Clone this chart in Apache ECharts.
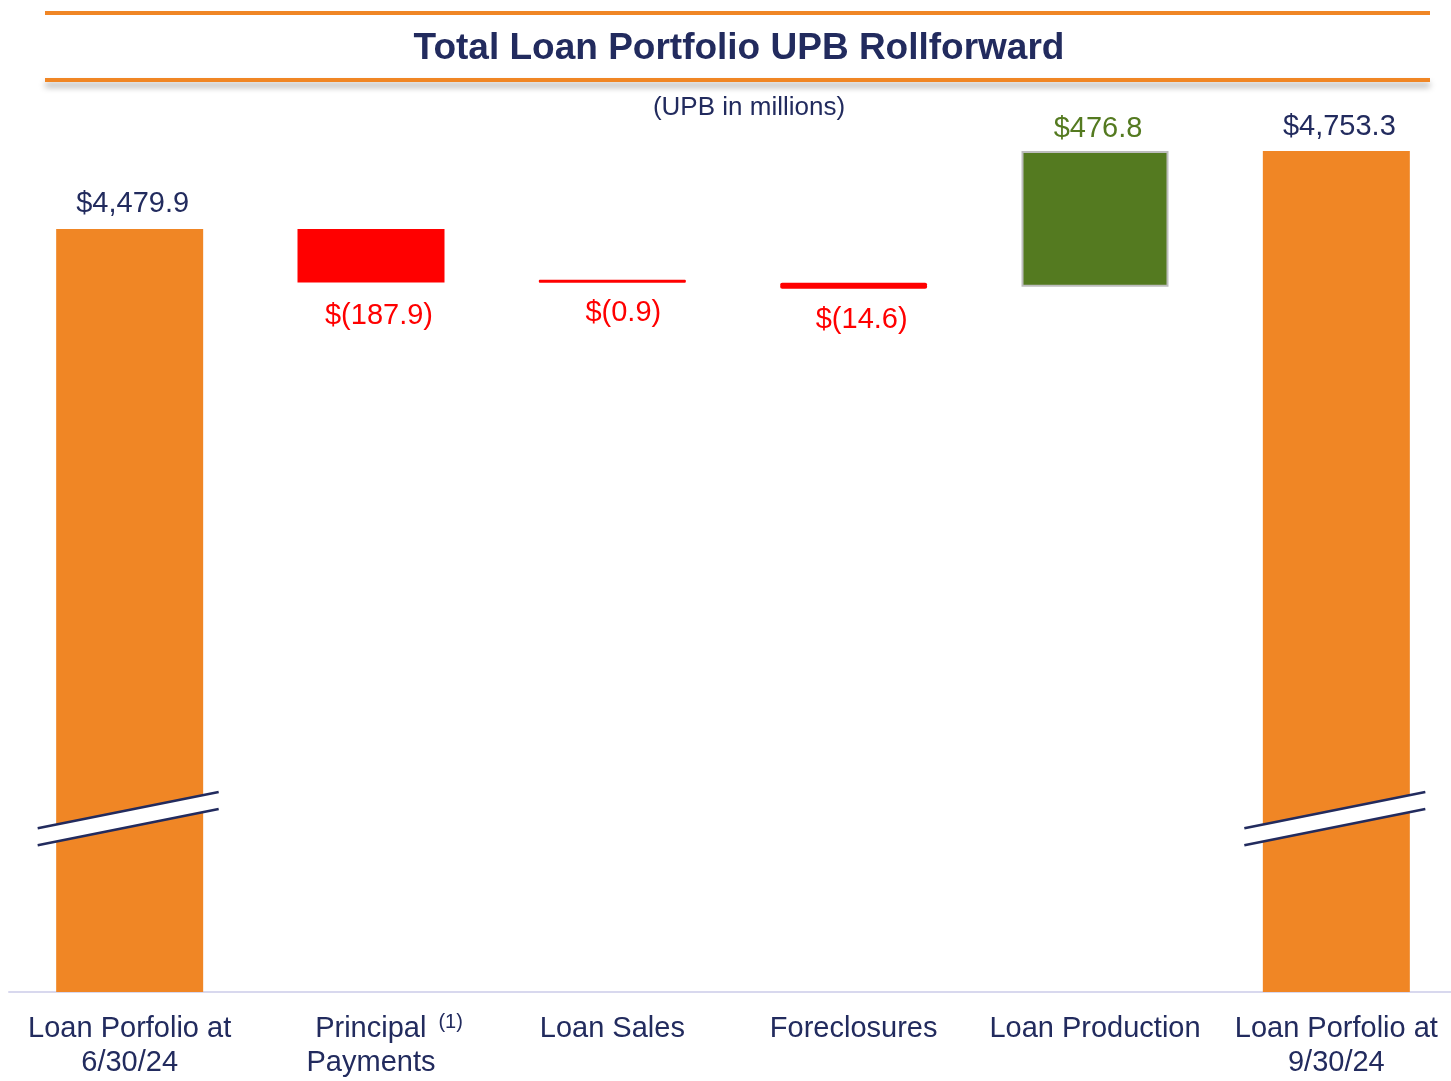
<!DOCTYPE html>
<html>
<head>
<meta charset="utf-8">
<script src="https://cdn.jsdelivr.net/npm/echarts@6/dist/echarts.min.js"></script>
<style>html,body{margin:0;padding:0;background:#fff;overflow:hidden;}#c{width:1460px;height:1081px;}</style>
</head>
<body>
<div id="c"></div>
<script>
// ---- data ----
const categories = ['Loan Porfolio at\n6/30/24', '{main|Principal}{sup|(1)}\nPayments', 'Loan Sales', 'Foreclosures', 'Loan Production', 'Loan Porfolio at\n9/30/24'];
const stepTypes = ['total', 'delta', 'delta', 'delta', 'delta', 'total'];
const stepValues = [4479.9, -187.9, -0.9, -14.6, 476.8, 4753.3];
const valueLabels = ['$4,479.9', '$(187.9)', '$(0.9)', '$(14.6)', '$476.8', '$4,753.3'];
const titleText = 'Total Loan Portfolio UPB Rollforward';
const subtitleText = '(UPB in millions)';
const Y_MIN = 1800, Y_MAX = 4760, BREAK_VALUE = 2410;

const NAVY = '#222B5E', ORANGE = '#F08625', RED = '#FF0000', GREEN = '#547A20';
const FONT = '"Liberation Sans", Arial, sans-serif';

// build stacked waterfall data
const baseData = [], barData = [];
let level = 0;
stepValues.forEach((v, i) => {
  if (stepTypes[i] === 'total') {
    level = v;
    baseData.push(0);
    barData.push({
      value: v,
      itemStyle: { color: ORANGE },
      label: { position: 'top', color: NAVY, distance: 10, offset: [3, 0] }
    });
  } else if (v < 0) {
    level += v;
    baseData.push(level);
    const tiny = -v < 5, small = -v < 30;
    barData.push({
      value: -v,
      itemStyle: small && !tiny
        ? { color: RED, borderRadius: 3, shadowColor: RED, shadowBlur: 0, shadowOffsetY: 2 }
        : { color: RED, borderRadius: tiny ? 1 : 0 },
      label: { position: 'bottom', color: RED, distance: tiny ? 16 : 19, offset: [tiny ? 11 : 8, 0] }
    });
  } else {
    baseData.push(level);
    level += v;
    barData.push({
      value: v,
      itemStyle: { color: GREEN, borderColor: '#BDBDBD', borderWidth: 2 },
      label: { position: 'top', color: GREEN, distance: 8, offset: [3, 0] }
    });
  }
});

const chart = echarts.init(document.getElementById('c'), null, { renderer: 'canvas' });

const option = {
  backgroundColor: '#fff',
  animation: false,
  textStyle: { fontFamily: FONT },
  title: [
    { text: titleText, left: 734, top: 25, textAlign: 'center',
      textStyle: { fontFamily: FONT, fontSize: 37, fontWeight: 'bold', color: NAVY } },
    { text: subtitleText, left: 744, top: 90, textAlign: 'center',
      textStyle: { fontFamily: FONT, fontSize: 26, fontWeight: 'normal', color: NAVY } }
  ],
  grid: { left: 9, width: 1448, top: 149.2, bottom: 89, containLabel: false },
  xAxis: {
    type: 'category',
    data: categories,
    axisLine: { show: true, lineStyle: { color: '#D8D8EE', width: 2 } },
    axisTick: { show: false },
    axisLabel: {
      interval: 0, margin: 20, color: NAVY, fontFamily: FONT, fontSize: 29, lineHeight: 34,
      rich: {
        main: { fontSize: 29, fontFamily: FONT, color: NAVY, lineHeight: 34, padding: [0, 0, 0, 36] },
        sup: { fontSize: 20, fontFamily: FONT, color: NAVY, verticalAlign: 'top', lineHeight: 1, padding: [0, 0, 0, 12] }
      }
    }
  },
  yAxis: {
    type: 'value', min: Y_MIN, max: Y_MAX,
    show: false, splitLine: { show: false }
  },
  series: [
    {
      type: 'bar', stack: 'w', data: baseData, barWidth: 147,
      itemStyle: { color: 'transparent' }, silent: true
    },
    {
      type: 'bar', stack: 'w', data: barData, barWidth: 147, barMinHeight: 3,
      label: {
        show: true, fontFamily: FONT, fontSize: 29,
        formatter: p => valueLabels[p.dataIndex]
      }
    }
  ]
};
chart.setOption(option);

// decorative header rules and axis-break marks
function buildGraphics() {
  const g = [
    { type: 'line', z: 100, shape: { x1: 45, y1: 13, x2: 1430, y2: 13 }, style: { stroke: ORANGE, lineWidth: 4 } },
    { type: 'line', z: 100, shape: { x1: 45, y1: 80, x2: 1430, y2: 80 },
      style: { stroke: ORANGE, lineWidth: 4, shadowColor: 'rgba(0,0,0,0.35)', shadowBlur: 6, shadowOffsetY: 5 } }
  ];
  stepTypes.forEach((t, i) => {
    if (t !== 'total') return;
    const p = chart.convertToPixel({ xAxisIndex: 0, yAxisIndex: 0 }, [i, BREAK_VALUE]);
    const cx = p[0], cy = p[1];
    const xl = cx - 92, xr = cx + 89;
    const slope = -0.2;
    const half = 8.5;
    const yl = cy + (xl - cx) * slope, yr = cy + (xr - cx) * slope;
    g.push({ type: 'polygon', z: 100, shape: { points: [[xl, yl - half], [xr, yr - half], [xr, yr + half], [xl, yl + half]] },
      style: { fill: '#fff' } });
    g.push({ type: 'line', z: 101, shape: { x1: xl, y1: yl - half, x2: xr, y2: yr - half }, style: { stroke: NAVY, lineWidth: 2.5 } });
    g.push({ type: 'line', z: 101, shape: { x1: xl, y1: yl + half, x2: xr, y2: yr + half }, style: { stroke: NAVY, lineWidth: 2.5 } });
  });
  chart.setOption({ graphic: g });
}
buildGraphics();
</script>
</body>
</html>
